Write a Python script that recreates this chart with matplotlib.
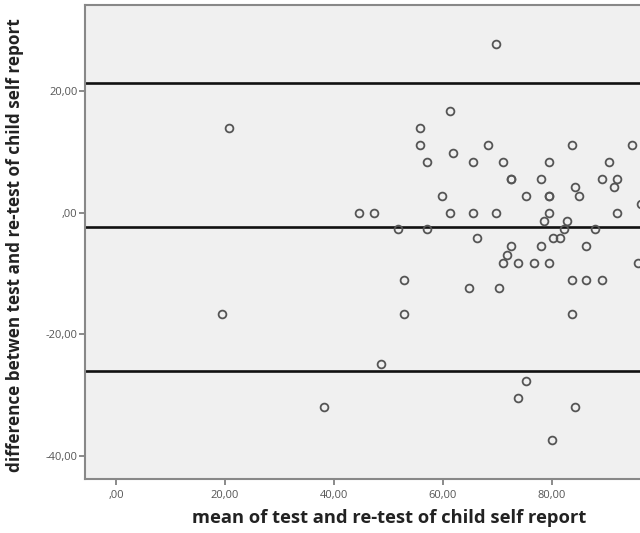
import numpy as np
import matplotlib
matplotlib.use('Agg')
import matplotlib.pyplot as plt
from matplotlib.ticker import FuncFormatter

# mean of test and re-test (x) and difference (y)
mean_score = [20.8, 19.4, 44.5, 47.3, 51.8, 52.8, 52.8, 48.7, 38.2,
              69.7, 61.2, 55.7, 55.7, 68.2, 83.6, 94.7, 61.9,
              57.1, 65.5, 71.0, 79.4, 90.5,
              72.4, 72.4, 78.0, 89.2, 92.0, 84.3, 91.4,
              59.9, 75.2, 79.4, 79.4, 85.0,
              61.2, 65.5, 69.7, 79.4, 92.0, 78.6, 82.8,
              57.1, 82.2, 87.9, 66.2, 80.2, 81.5,
              72.4, 78.0, 86.3, 71.7, 71.0, 73.8, 76.7, 79.4, 95.7,
              83.6, 86.3, 89.2, 64.7, 70.3, 83.6,
              75.2, 73.8, 84.3, 80.0, 96.4]
diff_score = [13.89, -16.67, 0.0, 0.0, -2.78, -11.11, -16.67, -25.0, -31.94,
              27.78, 16.67, 13.89, 11.11, 11.11, 11.11, 11.11, 9.72,
              8.33, 8.33, 8.33, 8.33, 8.33,
              5.56, 5.56, 5.56, 5.56, 5.56, 4.17, 4.17,
              2.78, 2.78, 2.78, 2.78, 2.78,
              0.0, 0.0, 0.0, 0.0, 0.0, -1.39, -1.39,
              -2.78, -2.78, -2.78, -4.17, -4.17, -4.17,
              -5.56, -5.56, -5.56, -6.94, -8.33, -8.33, -8.33, -8.33, -8.33,
              -11.11, -11.11, -11.11, -12.5, -12.5, -16.67,
              -27.78, -30.56, -31.94, -37.5, 1.39]

mean_diff = -2.45
upper_loa = 21.3
lower_loa = -26.1

x_ticks = [0, 20, 40, 60, 80]
y_ticks = [-40, -20, 0, 20]


def spss_fmt(v, pos=None):
    s = '%.2f' % v
    s = s.replace('.', ',')
    if s.startswith('0,'):
        s = s[1:]
    return s


fig = plt.figure(figsize=(6.4, 5.33), dpi=100)
ax = fig.add_axes([85 / 640, 1 - 479 / 533, 1 - 85 / 640, (479 - 5) / 533])
ax.set_facecolor('#f0f0f0')

for yv in [upper_loa, mean_diff, lower_loa]:
    ax.axhline(yv, color='#111111', lw=1.9, zorder=2)

ax.plot(mean_score, diff_score, 'o', ms=5.6, mfc='none', mec='#555555',
        mew=1.3, zorder=3)

ax.set_xlim(-5.7, 96.15)
ax.set_ylim(-43.85, 34.15)
ax.set_xticks(x_ticks)
ax.set_yticks(y_ticks)
ax.xaxis.set_major_formatter(FuncFormatter(spss_fmt))
ax.yaxis.set_major_formatter(FuncFormatter(spss_fmt))

for side in ['left', 'bottom', 'top']:
    ax.spines[side].set_color('#888888')
    ax.spines[side].set_linewidth(1.5)
ax.spines['right'].set_visible(False)

ax.tick_params(axis='both', direction='out', length=4, width=1.2,
               color='#777777', labelcolor='#555555', labelsize=8)
for lab in ax.get_xticklabels() + ax.get_yticklabels():
    lab.set_family('Open Sans')
ax.tick_params(axis='x', pad=4)
ax.tick_params(axis='y', pad=1.5)

ax.set_xlabel('mean of test and re-test of child self report',
              fontsize=13.2, fontweight='bold', color='#222222',
              family='Open Sans', va='center')
ax.set_ylabel('difference betwen test and re-test of child self report',
              fontsize=12.3, fontweight='bold', color='#222222',
              family='Open Sans', va='center')
# the original plot is cropped on the right, so the x label sits off-centre
ax.xaxis.set_label_coords(0.548, -0.082)
ax.yaxis.set_label_coords(-0.126, 0.494)

fig.savefig('out.png', dpi=100)
